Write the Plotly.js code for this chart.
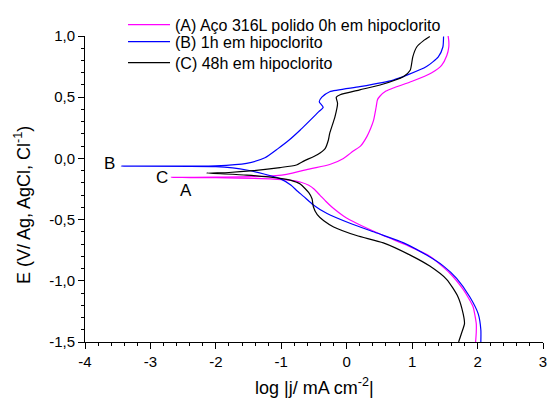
<!DOCTYPE html>
<html>
<head>
<meta charset="utf-8">
<script src="https://cdn.plot.ly/plotly-3.0.1.min.js"></script>
<style>html,body{margin:0;padding:0;background:#fff;}#chart{width:548px;height:398px;}</style>
</head>
<body>
<div id="chart"></div>
<script>
// Series names
const seriesNames = [
  "(A) Aço 316L polido 0h em hipoclorito",
  "(B) 1h em hipoclorito",
  "(C) 48h em hipoclorito"
];

// Series A (magenta): log|j| and E
const logjA = [1.97, 1.98, 1.98, 1.93, 1.85, 1.78, 1.58, 1.27, 0.92, 0.56, 0.15, -0.05, -0.20, -0.32, -0.41, -0.50, -0.58, -0.70, -0.92, -1.30, -2.00, -2.68,
  -2.00, -1.30, -0.92, -0.56, -0.26, -0.05, 0.10, 0.21, 0.31, 0.37, 0.41, 0.45, 0.47, 0.51, 0.60, 0.71, 1.00, 1.30, 1.45, 1.53, 1.56, 1.56, 1.55];
const eA = [-1.50, -1.42, -1.35, -1.21, -1.13, -1.07, -0.94, -0.80, -0.71, -0.63, -0.53, -0.47, -0.41, -0.35, -0.30, -0.25, -0.22, -0.195, -0.176, -0.165, -0.158, -0.155,
  -0.153, -0.148, -0.13, -0.085, -0.05, 0.00, 0.06, 0.10, 0.18, 0.25, 0.31, 0.42, 0.48, 0.51, 0.55, 0.575, 0.63, 0.70, 0.76, 0.84, 0.91, 0.96, 1.00];

// Series B (blue)
const logjB = [2.05, 2.05, 2.01, 1.88, 1.68, 1.48, 1.22, 0.87, 0.46, 0.05, -0.30, -0.51, -0.66, -0.77, -0.85, -1.02, -1.53, -2.00, -3.45,
  -2.00, -1.53, -1.25, -1.05, -0.88, -0.71, -0.43, -0.36, -0.42, -0.38, -0.26, 0.20, 0.71, 0.92, 1.22, 1.40, 1.47, 1.48];
const eB = [-1.50, -1.40, -1.27, -1.13, -0.98, -0.88, -0.79, -0.69, -0.61, -0.53, -0.45, -0.38, -0.31, -0.26, -0.22, -0.165, -0.095, -0.068, -0.063,
  -0.060, -0.040, 0.005, 0.08, 0.15, 0.232, 0.38, 0.417, 0.463, 0.50, 0.545, 0.586, 0.64, 0.68, 0.75, 0.83, 0.91, 0.995];

// Series C (black)
const logjC = [1.71, 1.76, 1.80, 1.78, 1.70, 1.53, 1.27, 0.97, 0.56, 0.15, -0.20, -0.35, -0.45, -0.51, -0.53, -0.58, -0.71, -0.85, -1.02, -1.53, -2.14,
  -1.80, -1.43, -1.02, -0.77, -0.65, -0.45, -0.33, -0.28, -0.26, -0.18, -0.14, -0.16, -0.10, 0.20, 0.51, 0.87, 0.97, 1.01, 1.07, 1.17, 1.27];
const eC = [-1.50, -1.42, -1.35, -1.27, -1.13, -0.99, -0.88, -0.79, -0.69, -0.63, -0.56, -0.51, -0.46, -0.395, -0.33, -0.28, -0.21, -0.18, -0.163, -0.136, -0.12,
  -0.115, -0.10, -0.075, -0.054, -0.02, 0.03, 0.08, 0.15, 0.205, 0.34, 0.45, 0.50, 0.52, 0.56, 0.60, 0.67, 0.72, 0.83, 0.91, 0.96, 0.995];

// Curve labels
const labelText = ["B", "C", "A"];
const labelX = [-3.63, -2.83, -2.46];
const labelY = [-0.038, -0.152, -0.266];

// Tick labels
const xTickVals = [-4, -3, -2, -1, 0, 1, 2, 3];
const xTickText = ["-4", "-3", "-2", "-1", "0", "1", "2", "3"];
const yTickVals = [-1.5, -1.0, -0.5, 0.0, 0.5, 1.0];
const yTickText = ["-1,5", "-1,0", "-0,5", "0,0", "0,5", "1,0"];

const colors = ["#ff00ff", "#0000ff", "#000000"];
const FONT = "Liberation Sans, Arial, sans-serif";

const traces = [
  {x: logjA, y: eA, name: seriesNames[0], mode: "lines", legend: "legend",
   line: {color: colors[0], width: 1.2, shape: "spline", smoothing: 0.6}},
  {x: logjB, y: eB, name: seriesNames[1], mode: "lines", legend: "legend2",
   line: {color: colors[1], width: 1.2, shape: "spline", smoothing: 0.6}},
  {x: logjC, y: eC, name: seriesNames[2], mode: "lines", legend: "legend3",
   line: {color: colors[2], width: 1.2, shape: "spline", smoothing: 0.6}}
];

const annotations = labelText.map((t, i) => ({
  x: labelX[i], y: labelY[i], xref: "x", yref: "y", text: t, showarrow: false,
  font: {family: FONT, size: 17, color: "#000"}, xanchor: "center", yanchor: "middle"
}));
annotations.push({
  xref: "paper", yref: "paper", x: 0.5, y: -0.147, text: "log |j/ mA cm<sup>-2</sup>|",
  showarrow: false, font: {family: FONT, size: 18, color: "#000"}, xanchor: "center", yanchor: "middle"
});
annotations.push({
  xref: "paper", yref: "paper", x: -0.135, y: 0.448, text: "E (V/ Ag, AgCl, Cl<sup>-1</sup>)",
  textangle: -90, showarrow: false, font: {family: FONT, size: 18, color: "#000"}, xanchor: "center", yanchor: "middle"
});

const axisCommon = {
  showgrid: false, zeroline: false, showline: true, linecolor: "#000", linewidth: 1,
  ticks: "outside", ticklen: 6, tickwidth: 1, tickcolor: "#000",
  tickfont: {family: FONT, size: 15, color: "#000"}, mirror: false, fixedrange: true
};

const legendBase = {
  x: 0.083, xanchor: "left", yanchor: "top", bgcolor: "rgba(0,0,0,0)",
  font: {family: FONT, size: 16, color: "#000"}, itemwidth: 42
};

const layout = {
  width: 548, height: 398,
  margin: {l: 85, r: 5, t: 36, b: 56},
  paper_bgcolor: "#fff", plot_bgcolor: "#fff",
  showlegend: true,
  legend: Object.assign({}, legendBase, {y: 1.0925}),
  legend2: Object.assign({}, legendBase, {y: 1.0369}),
  legend3: Object.assign({}, legendBase, {y: 0.9683}),
  xaxis: Object.assign({}, axisCommon, {
    range: [-4, 3], tickmode: "array", tickvals: xTickVals, ticktext: xTickText,
    minor: {dtick: 0.2, ticks: "outside", ticklen: 3, tickcolor: "#000", showgrid: false}
  }),
  yaxis: Object.assign({}, axisCommon, {
    range: [-1.5, 1.0], tickmode: "array", tickvals: yTickVals, ticktext: yTickText,
    minor: {dtick: 0.1, ticks: "outside", ticklen: 3, tickcolor: "#000", showgrid: false}
  }),
  annotations: annotations
};

Plotly.newPlot("chart", traces, layout, {staticPlot: true, displayModeBar: false});
</script>
</body>
</html>
